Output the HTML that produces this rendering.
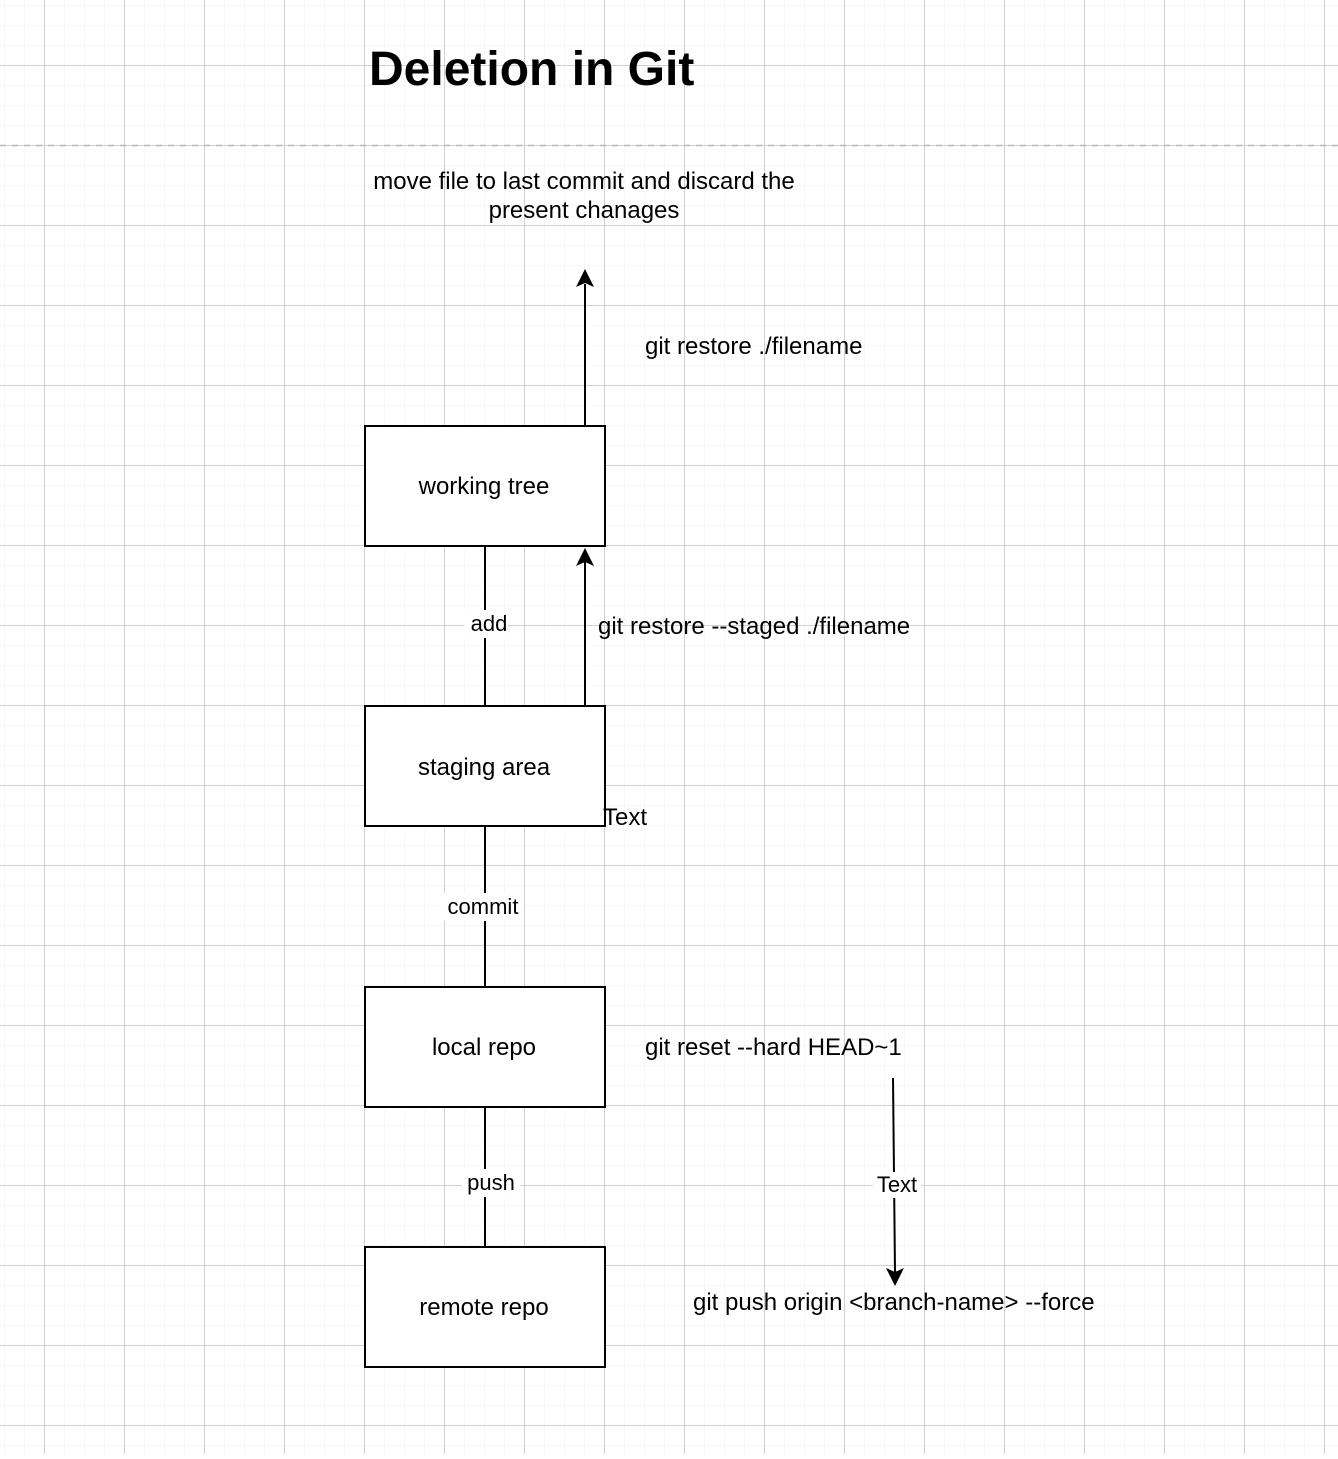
<!DOCTYPE html>
<html><head><style>
body{margin:0;width:1338px;height:1454px;overflow:hidden;background:#fff}
svg text{font-family:"Liberation Sans",Arial,sans-serif;fill:#000}
</style></head><body>
<svg width="1338" height="1454" xmlns="http://www.w3.org/2000/svg">
<defs>
<pattern id="minor" x="4" y="5" width="20" height="20" patternUnits="userSpaceOnUse">
<path d="M0 0V20M0 0H20" stroke="#f0f0f0" stroke-width="1" fill="none"/>
</pattern>
<pattern id="major" x="44" y="65" width="80" height="80" patternUnits="userSpaceOnUse">
<path d="M0.5 0V80M0 0.5H80" stroke="#d0d0d0" stroke-width="1" fill="none"/>
</pattern>
</defs>
<rect width="1338" height="1454" fill="url(#minor)"/>
<rect width="1338" height="1454" fill="url(#major)"/>
<line x1="0" y1="145.5" x2="1338" y2="145.5" stroke="#b8b8b8" stroke-width="1.5" stroke-dasharray="6 6"/>
<text x="369" y="85" font-size="48" font-weight="bold">Deletion in Git</text>
<text x="584" y="189" font-size="24" text-anchor="middle">move file to last commit and discard the</text>
<text x="584" y="218" font-size="24" text-anchor="middle">present chanages</text>
<g stroke="#000" stroke-width="2" fill="#fff">
<rect x="365" y="426" width="240" height="120"/>
<rect x="365" y="706" width="240" height="120"/>
<rect x="365" y="987" width="240" height="120"/>
<rect x="365" y="1247" width="240" height="120"/>
<line x1="485" y1="546" x2="485" y2="706"/>
<line x1="485" y1="826" x2="485" y2="987"/>
<line x1="485" y1="1107" x2="485" y2="1247"/>
<line x1="585" y1="426" x2="585" y2="284"/>
<line x1="585" y1="706" x2="585" y2="562"/>
<line x1="893" y1="1078" x2="895" y2="1272"/>
</g>
<g fill="#000">
<path d="M585 269 L576 287 L585 283 L594 287Z"/>
<path d="M585 548 L576 566 L585 562 L594 566Z"/>
<path d="M895 1286 L886 1268 L895 1272 L904 1268Z"/>
</g>
<g fill="#fff">
<rect x="464" y="610" width="44" height="28"/>
<rect x="443" y="893" width="80" height="28"/>
<rect x="462" y="1169" width="58" height="28"/>
<rect x="873" y="1172" width="48" height="26"/>
</g>
<g font-size="24" text-anchor="middle">
<text x="484" y="494">working tree</text>
<text x="484" y="775">staging area</text>
<text x="484" y="1055">local repo</text>
<text x="484" y="1315">remote repo</text>
</g>
<g font-size="22" text-anchor="middle">
<text x="489" y="631">add</text>
<text x="483" y="914">commit</text>
<text x="491" y="1190">push</text>
<text x="897" y="1192">Text</text>
</g>
<g font-size="24">
<text x="645" y="354">git restore ./filename</text>
<text x="598" y="634">git restore --staged ./filename</text>
<text x="603" y="825">Text</text>
<text x="645" y="1055">git reset --hard HEAD~1</text>
<text x="693" y="1310">git push origin &lt;branch-name&gt; --force</text>
</g>
</svg>
</body></html>
